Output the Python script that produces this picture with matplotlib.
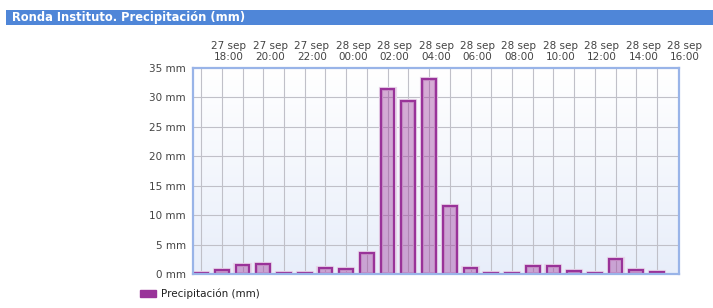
import matplotlib
matplotlib.use("Agg")
import matplotlib.pyplot as plt
import numpy as np
from matplotlib.patches import Rectangle, Patch
from matplotlib.transforms import ScaledTranslation

# Data
hours = ["27 sep\n17:00", "27 sep\n18:00", "27 sep\n19:00", "27 sep\n20:00", "27 sep\n21:00",
         "27 sep\n22:00", "27 sep\n23:00", "28 sep\n00:00", "28 sep\n01:00", "28 sep\n02:00",
         "28 sep\n03:00", "28 sep\n04:00", "28 sep\n05:00", "28 sep\n06:00", "28 sep\n07:00",
         "28 sep\n08:00", "28 sep\n09:00", "28 sep\n10:00", "28 sep\n11:00", "28 sep\n12:00",
         "28 sep\n13:00", "28 sep\n14:00", "28 sep\n15:00", "28 sep\n16:00"]
precip = [0.1, 0.7, 1.5, 1.7, 0.1, 0.1, 1.1, 0.9, 3.5, 31.4, 29.4, 33.2, 11.5,
          1.1, 0.1, 0.1, 1.3, 1.3, 0.5, 0.1, 2.5, 0.7, 0.3]
yticks = [0, 5, 10, 15, 20, 25, 30, 35]
title = "Ronda Instituto. Precipitación (mm)"
series_name = "Precipitación (mm)"

W, H = 713, 308
fig = plt.figure(figsize=(W / 100, H / 100), dpi=100)
fig.patch.set_facecolor("white")

ax = fig.add_axes([193 / W, (H - 274) / H, (679 - 193) / W, (274 - 68) / H])

x = np.arange(len(precip))
ax.set_xlim(-0.39, len(precip) + 0.06)
ax.set_ylim(0, 35)

# gradient background
grad = np.linspace(0, 1, 256).reshape(-1, 1)
top = np.array([1.0, 1.0, 1.0])
bot = np.array([0xe8, 0xee, 0xfa]) / 255
img = top[None, None, :] * (1 - grad[:, :, None]) + bot[None, None, :] * grad[:, :, None]
ax.imshow(img, extent=[0, 1, 0, 1], transform=ax.transAxes, aspect="auto", zorder=0)

# grid
for xi in x:
    ax.axvline(xi, color="#c0c0c8", lw=0.8, zorder=1)
for yv in yticks[1:-1]:
    ax.axhline(yv, color="#c0c0c8", lw=0.8, zorder=1)

# bars: halo + main
ax.bar(x, precip, width=0.68, color="none", edgecolor="#e8d6ea", lw=3.0, zorder=2)
ax.bar(x, precip, width=0.66, color=(0.61, 0.2, 0.6, 0.4), edgecolor="#993399",
       lw=1.6, zorder=3)

# y axis
ax.set_yticks(yticks)
ax.set_yticklabels([f"{v} mm" for v in yticks], fontsize=7.5, color="#444444")
ax.tick_params(axis="y", length=0, pad=5)

# x axis at top
tick_idx = list(range(1, len(hours), 2))
ax.xaxis.tick_top()
ax.set_xticks(tick_idx)
ax.set_xticklabels([hours[i] for i in tick_idx], fontsize=7.5, color="#444444",
                   linespacing=1.15)
ax.tick_params(axis="x", length=0, pad=4.5)
off = ScaledTranslation(7 / 100, 0, fig.dpi_scale_trans)
for lab in ax.get_xticklabels():
    lab.set_transform(lab.get_transform() + off)

for s in ax.spines.values():
    s.set_color("#99b4e8")
    s.set_linewidth(1.6)
    s.set_zorder(5)

# title bar
fig.patches.append(Rectangle((6 / W, (H - 25) / H), 1 - 6 / W, 15 / H,
                             transform=fig.transFigure, facecolor="#4f86d8",
                             edgecolor="none", zorder=0))
fig.text(12 / W, (H - 17.5) / H, title, color="white", fontweight="bold",
         fontsize=8.3, va="center", ha="left")

# legend
handle = Patch(facecolor="#993399", edgecolor="#993399")
fig.legend([handle], [series_name], loc="center left",
           bbox_to_anchor=(140 / W, (H - 294) / H), frameon=False,
           fontsize=7.5, handlelength=1.55, handleheight=0.75,
           handletextpad=0.5, borderpad=0, borderaxespad=0,
           labelcolor="#202020")

fig.savefig("out.png", dpi=100)
